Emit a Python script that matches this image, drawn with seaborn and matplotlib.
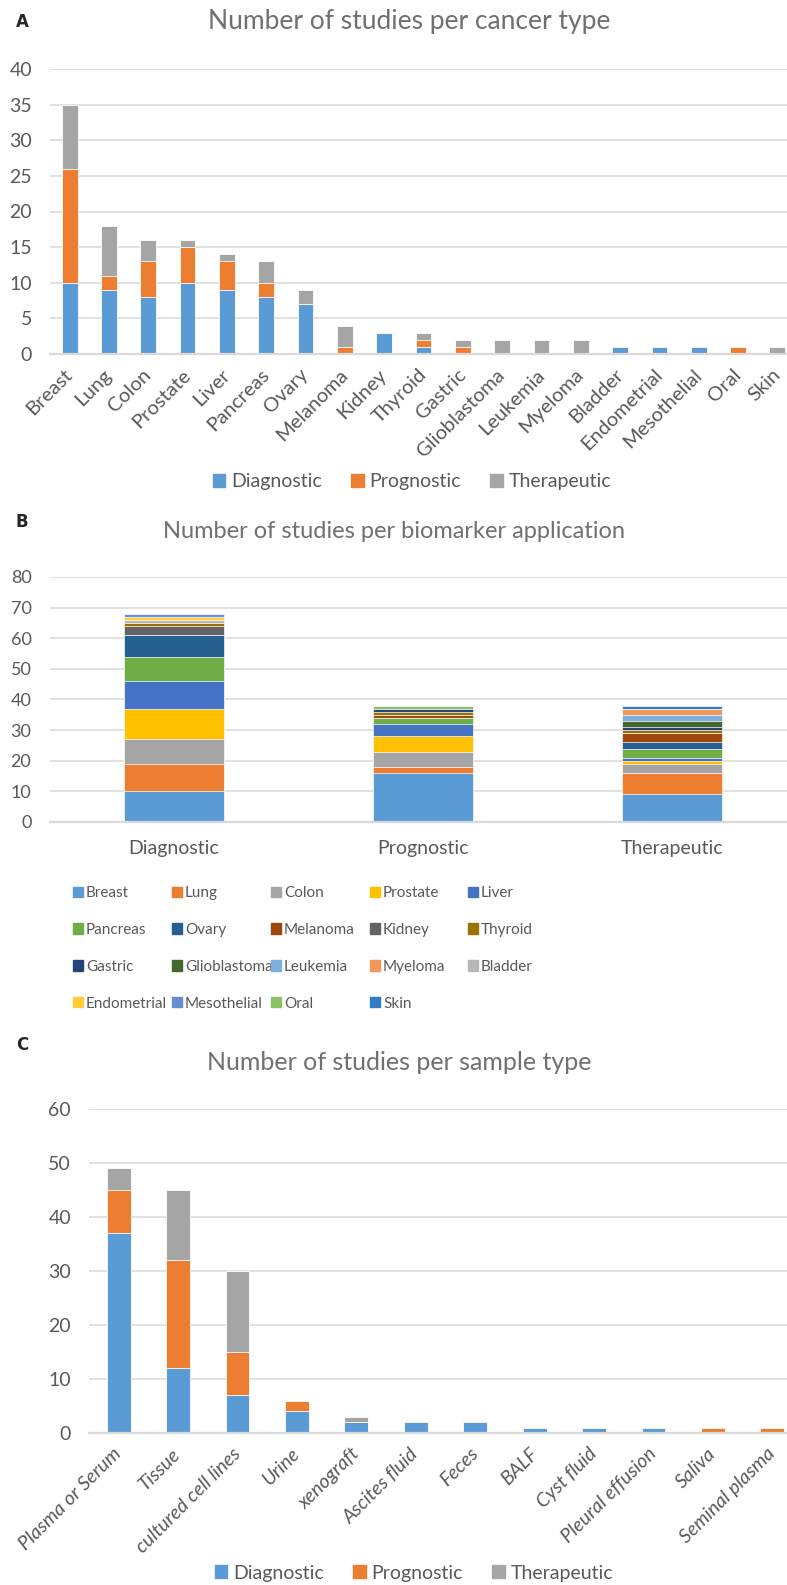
import numpy as np
import pandas as pd
import seaborn as sns
import matplotlib.pyplot as plt
from matplotlib.patches import Patch

# panel A - studies per cancer type
cancers = ["Breast", "Lung", "Colon", "Prostate", "Liver", "Pancreas", "Ovary", "Melanoma",
           "Kidney", "Thyroid", "Gastric", "Glioblastoma", "Leukemia", "Myeloma", "Bladder",
           "Endometrial", "Mesothelial", "Oral", "Skin"]
diag_a = [10, 9, 8, 10, 9, 8, 7, 0, 3, 1, 0, 0, 0, 0, 1, 1, 1, 0, 0]
prog_a = [16, 2, 5, 5, 4, 2, 0, 1, 0, 1, 1, 0, 0, 0, 0, 0, 0, 1, 0]
ther_a = [9, 7, 3, 1, 1, 3, 2, 3, 0, 1, 1, 2, 2, 2, 0, 0, 0, 0, 1]

# panel B - studies per application (same counts, transposed)
applications = ["Diagnostic", "Prognostic", "Therapeutic"]
cancer_colors = ["#5B9BD5", "#ED7D31", "#A5A5A5", "#FFC000", "#4472C4", "#70AD47", "#255E91",
                 "#9E480E", "#636363", "#997300", "#264478", "#43682B", "#7CAFDD", "#F1975A",
                 "#B7B7B7", "#FFCD33", "#698ED0", "#8CC168", "#327DC2"]

# panel C - studies per sample type
samples = ["Plasma or Serum", "Tissue", "cultured cell lines", "Urine", "xenograft", "Ascites fluid",
           "Feces", "BALF", "Cyst fluid", "Pleural effusion", "Saliva", "Seminal plasma"]
diag_c = [37, 12, 7, 4, 2, 2, 2, 1, 1, 1, 0, 0]
prog_c = [8, 20, 8, 2, 0, 0, 0, 0, 0, 0, 1, 1]
ther_c = [4, 13, 15, 0, 1, 0, 0, 0, 0, 0, 0, 0]

app_colors = ["#5B9BD5", "#ED7D31", "#A5A5A5"]

sns.set_style("white")
plt.rcParams["font.family"] = ["Lato", "DejaVu Sans"]

TICK = "#595959"
TITLE = "#707070"
GRID = "#D9D9D9"

fig = plt.figure(figsize=(7.87, 15.85), dpi=100)


def rect(l, t, r, b):
    return [l / 787, 1 - b / 1585, (r - l) / 787, (b - t) / 1585]


def style(ax, ymax, step, fs):
    ax.set_ylim(0, ymax)
    ax.set_yticks(np.arange(0, ymax + 1, step))
    ax.yaxis.grid(True, color=GRID, linewidth=1.1)
    ax.set_axisbelow(True)
    for s in ["top", "right", "left"]:
        ax.spines[s].set_visible(False)
    ax.spines["bottom"].set_color(GRID)
    ax.spines["bottom"].set_linewidth(1.6)
    ax.tick_params(axis="both", length=0, colors=TICK, labelsize=fs)
    ax.tick_params(axis="y", pad=13)
    ax.set_xlabel("")
    ax.set_ylabel("")


def stacked(ax, cats, layers, colors):
    cum = np.cumsum(np.array(layers), axis=0)
    for vals, col in zip(cum[::-1], colors[::-1]):
        sns.barplot(x=cats, y=vals, color=col, saturation=1, width=0.4,
                    edgecolor="white", linewidth=0.6, ax=ax)


# ---- A
axA = fig.add_axes(rect(50, 69, 797, 354))
stacked(axA, cancers, [diag_a, prog_a, ther_a], app_colors)
style(axA, 40, 5, 14)
axA.set_xticks(range(len(cancers)))
axA.set_xticklabels(cancers, rotation=45, ha="right", va="center", rotation_mode="anchor",
                    fontsize=14.5)
axA.tick_params(axis="x", pad=13)
fig.text(409 / 787, 1 - 22 / 1585, "Number of studies per cancer type", ha="center", va="center",
         fontsize=19, color=TITLE)
fig.text(22 / 787, 1 - 22 / 1585, "A", fontsize=12, fontweight="bold", ha="center", va="center",
         family=["DejaVu Sans"])
handles = [Patch(color=c, label=l) for c, l in zip(app_colors, applications)]
fig.legend(handles=handles, loc="center", bbox_to_anchor=(412 / 787, 1 - 482 / 1585), ncol=3,
           frameon=False, fontsize=14, labelcolor=TICK, handlelength=0.65, handleheight=0.65,
           handletextpad=0.3, columnspacing=1.5)

# ---- B
axB = fig.add_axes(rect(49.5, 577, 796.5, 822))
cum_b = np.cumsum(np.array([diag_a, prog_a, ther_a]).T, axis=0)
for i in range(len(cancers) - 1, -1, -1):
    sns.barplot(x=applications, y=cum_b[i], color=cancer_colors[i], saturation=1, width=0.4,
                edgecolor="white", linewidth=0.5, ax=axB)
style(axB, 80, 10, 13)
axB.tick_params(axis="x", pad=13, labelsize=14)
fig.text(394 / 787, 1 - 532 / 1585, "Number of studies per biomarker application", ha="center",
         va="center", fontsize=17, color=TITLE)
fig.text(22 / 787, 1 - 522 / 1585, "B", fontsize=12, fontweight="bold", ha="center", va="center",
         family=["DejaVu Sans"])
# legend laid out row by row, five evenly spaced columns
col_x = [73, 172, 271, 370, 468]
for c, x in enumerate(col_x):
    idx = [r * 5 + c for r in range(4) if r * 5 + c < len(cancers)]
    handles = [Patch(color=cancer_colors[i], label=cancers[i]) for i in idx]
    fig.legend(handles=handles, loc="upper left", bbox_to_anchor=(x / 787, 1 - 886 / 1585),
               frameon=False, fontsize=11, labelcolor=TICK, handlelength=0.65, handleheight=0.65,
               handletextpad=0.2, labelspacing=1.5, borderpad=0, borderaxespad=0)

# ---- C
axC = fig.add_axes(rect(89, 1109, 802, 1433))
stacked(axC, samples, [diag_c, prog_c, ther_c], app_colors)
style(axC, 60, 10, 14)
axC.set_xticks(range(len(samples)))
axC.set_xticklabels(samples, rotation=45, ha="right", va="center", rotation_mode="anchor",
                    style="italic", fontsize=14)
axC.tick_params(axis="x", pad=13)
fig.text(399 / 787, 1 - 1062 / 1585, "Number of studies per sample type", ha="center", va="center",
         fontsize=18, color=TITLE)
fig.text(22 / 787, 1 - 1045 / 1585, "C", fontsize=12, fontweight="bold", ha="center", va="center",
         family=["DejaVu Sans"])
handles = [Patch(color=c, label=l) for c, l in zip(app_colors, applications)]
fig.legend(handles=handles, loc="center", bbox_to_anchor=(414 / 787, 1 - 1573 / 1585), ncol=3,
           frameon=False, fontsize=14, labelcolor=TICK, handlelength=0.65, handleheight=0.65,
           handletextpad=0.3, columnspacing=1.5)

fig.savefig("out.png", dpi=100)
